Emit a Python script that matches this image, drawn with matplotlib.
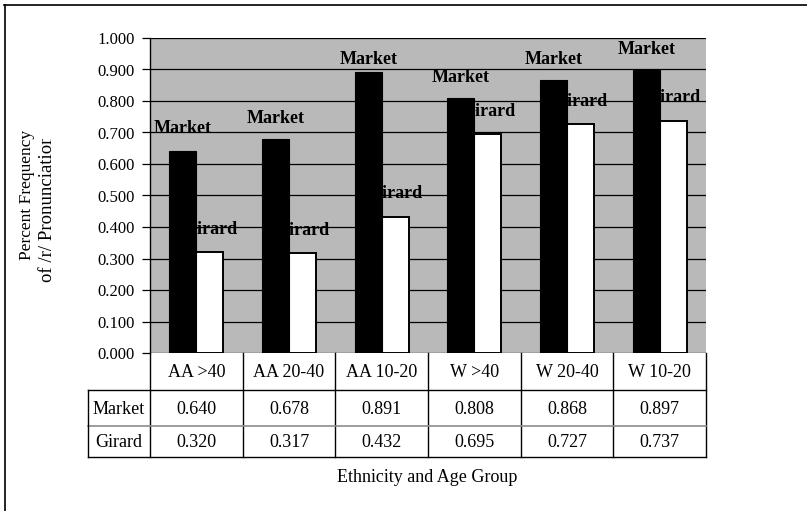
import matplotlib
matplotlib.use('Agg')
import matplotlib.pyplot as plt
from matplotlib.transforms import Bbox
import numpy as np

# Data
groups = ['AA >40', 'AA 20-40', 'AA 10-20', 'W >40', 'W 20-40', 'W 10-20']
series_names = ['Market', 'Girard']
market = [0.640, 0.678, 0.891, 0.808, 0.868, 0.897]
girard = [0.320, 0.317, 0.432, 0.695, 0.727, 0.737]
yticks = [0.0, 0.1, 0.2, 0.3, 0.4, 0.5, 0.6, 0.7, 0.8, 0.9, 1.0]

# label nudges (data units above bar top)
market_off = [0.072, 0.068, 0.040, 0.068, 0.063, 0.065]
girard_off = [0.073, 0.073, 0.073, 0.072, 0.071, 0.075]

plt.rcParams['font.family'] = ['Liberation Serif', 'DejaVu Serif']

W, H = 807, 511
fig = plt.figure(figsize=(W/100, H/100), dpi=100)

def fx(px): return px/W
def fy(py): return 1 - py/H

# outer frame (only top and left visible in scan)
fig.add_artist(plt.Line2D([fx(4), fx(807)], [fy(5), fy(5)], color='black', lw=1.2))
fig.add_artist(plt.Line2D([fx(5), fx(5)], [fy(5), fy(511)], color='black', lw=1.2))

# plot area
pl, pr, pt, pb = 150, 706, 38, 353
ax = fig.add_axes([fx(pl), fy(pb), fx(pr-pl), (pb-pt)/H])
ax.set_facecolor('#b9b9b9')
n = len(groups)
x = np.arange(n)
bw = 0.29
ax.bar(x - bw/2, market, bw, color='black', edgecolor='black', lw=0.8, zorder=3)
ax.bar(x + bw/2, girard, bw, color='white', edgecolor='black', lw=1.4, zorder=2)
for i in range(n):
    ax.text(x[i] - bw/2, market[i] + market_off[i], series_names[0], ha='center', va='center',
            fontsize=13, fontweight='bold', zorder=5)
    ax.text(x[i] + bw/2, girard[i] + girard_off[i], series_names[1], ha='center', va='center',
            fontsize=13, fontweight='bold', zorder=2.5)
ax.set_xlim(-0.5, n - 0.5)
ax.set_ylim(0, 1.0)
ax.set_yticks(yticks)
ax.set_yticklabels(['%.3f' % v for v in yticks], fontsize=12)
ax.yaxis.grid(True, color='black', lw=0.9, zorder=1)
ax.set_axisbelow(True)
ax.set_xticks([])
ax.tick_params(axis='y', length=6, width=0.9, pad=5)
for s in ['top', 'right', 'bottom']:
    ax.spines[s].set_visible(False)
ax.spines['left'].set_linewidth(1.0)

# y label (second line clipped at the top as in the scan)
fig.text(fx(27), fy(195), 'Percent Frequency', rotation=90, ha='center', va='center', fontsize=12.5)
ylab2 = fig.text(fx(48), fy(208), 'of /r/ Pronunciation', rotation=90, ha='center', va='center', fontsize=13.5)
ylab2.set_clip_box(Bbox.from_extents(0, 0, 200, H - 139))
ylab2.set_clip_on(True)

# data table
tl, tr = 88, 706
tax = fig.add_axes([0, 0, 1, 1])
tax.set_xlim(0, W)
tax.set_ylim(H, 0)
tax.axis('off')
rows_y = [353, 390, 426, 457]
colw = (pr - pl) / n
lk = dict(color='black', lw=1.0)
for i in range(n + 1):
    xx = pl + i*colw
    tax.plot([xx, xx], [rows_y[0], rows_y[3]], **lk)
for i, g in enumerate(groups):
    tax.text(pl + (i + 0.5)*colw, (rows_y[0] + rows_y[1])/2 + 1, g, ha='center', va='center', fontsize=13)
tax.plot([tl, tr], [rows_y[1], rows_y[1]], **lk)
tax.plot([tl, tr], [rows_y[2], rows_y[2]], color='#8c8c8c', lw=1.2)
tax.plot([tl, tr], [rows_y[3], rows_y[3]], **lk)
tax.plot([tl, tl], [rows_y[1], rows_y[3]], **lk)
for r, (name, vals) in enumerate(zip(series_names, [market, girard])):
    yc = (rows_y[r+1] + rows_y[r+2])/2 + 1
    tax.text((tl + pl)/2, yc, name, ha='center', va='center', fontsize=13)
    for i, v in enumerate(vals):
        tax.text(pl + (i + 0.5)*colw, yc, '%.3f' % v, ha='center', va='center', fontsize=13)

tax.text(427, 477, 'Ethnicity and Age Group', ha='center', va='center', fontsize=13)

fig.savefig('out.png', dpi=100)
